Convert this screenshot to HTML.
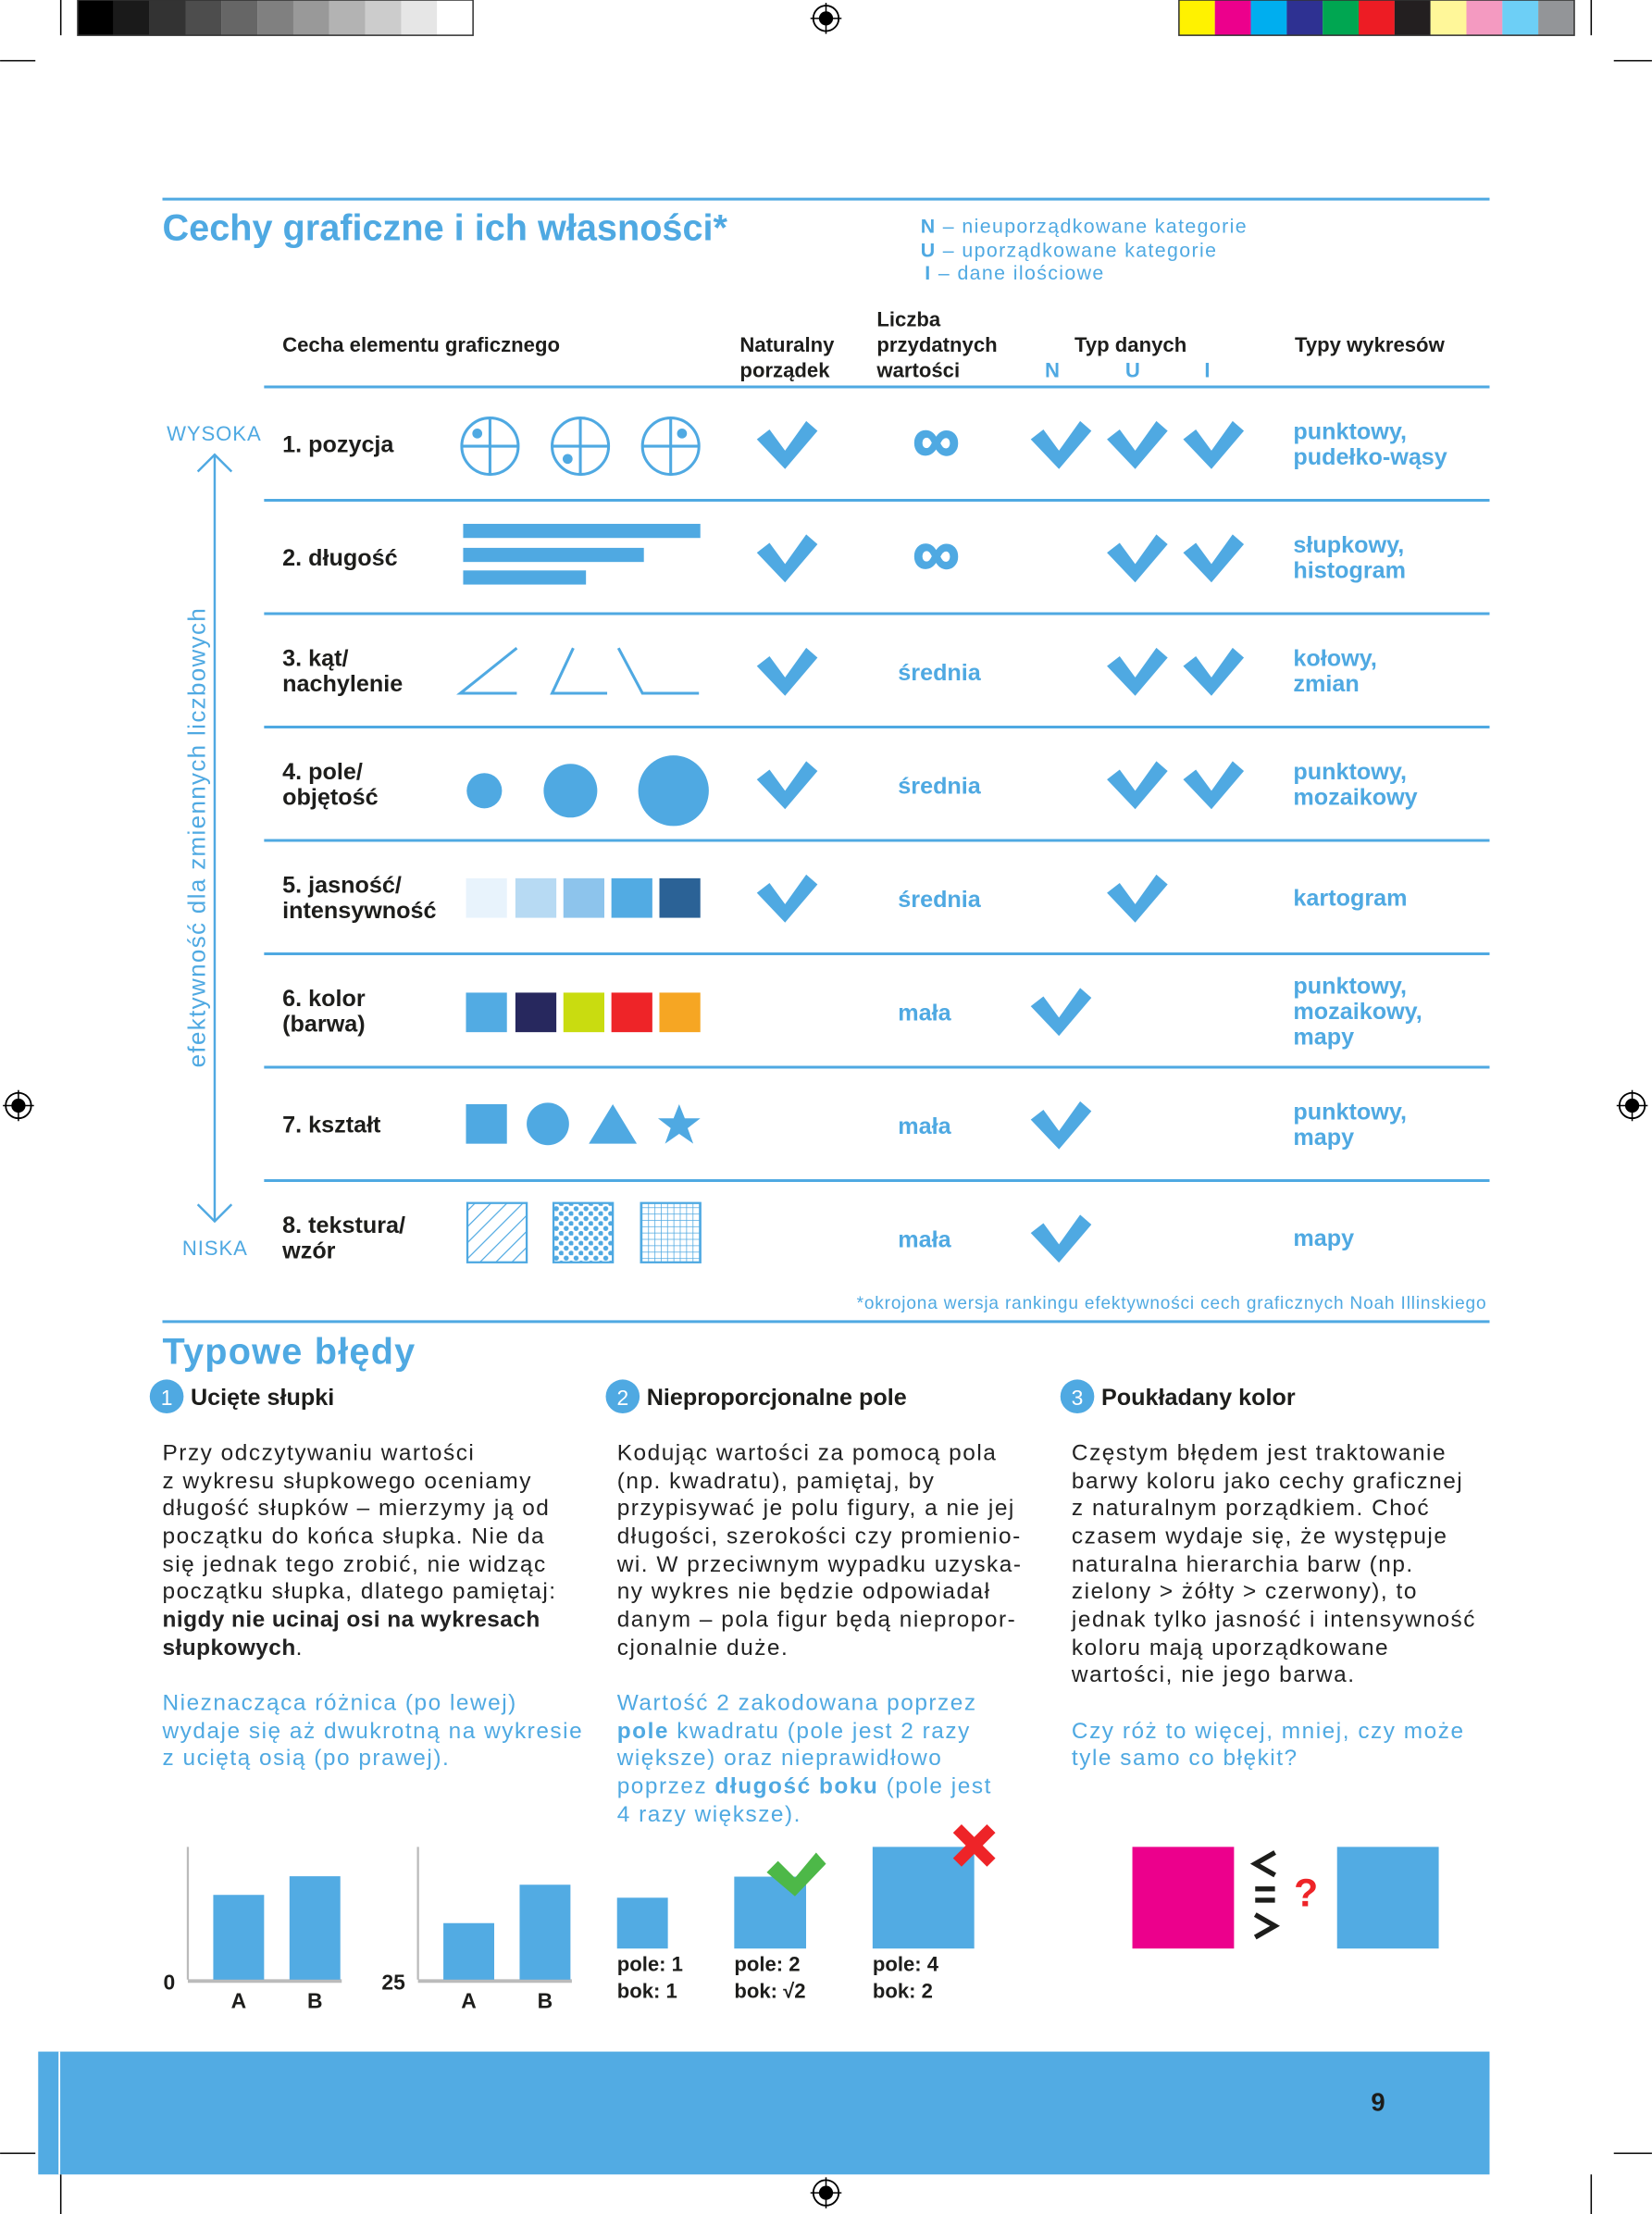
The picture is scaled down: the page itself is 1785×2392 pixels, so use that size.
<!DOCTYPE html>
<html><head><meta charset="utf-8">
<style>
html,body{margin:0;padding:0;background:#fff;}
svg{display:block;}
text{font-family:"Liberation Sans",sans-serif;}
.b{font-weight:bold;fill:#1d1d1b;}
.bl{fill:#4FA9E2;}
.blb{fill:#4FA9E2;font-weight:bold;}
.body{font-size:16px;fill:#222;letter-spacing:1px;}
.bbody{font-size:16px;fill:#4FA9E2;letter-spacing:1px;}
</style></head>
<body>
<svg id="page" width="1785" height="2392" viewBox="0 0 1170 1568" xmlns="http://www.w3.org/2000/svg">
<defs>
<pattern id="hatch" width="8" height="8" patternUnits="userSpaceOnUse" patternTransform="rotate(45)"><line x1="0" y1="0" x2="0" y2="8" stroke="#4FA9E2" stroke-width="1.6"/></pattern>
<pattern id="dots" width="7" height="7" patternUnits="userSpaceOnUse"><circle cx="2" cy="2" r="1.8" fill="#4FA9E2"/><circle cx="5.5" cy="5.5" r="1.8" fill="#4FA9E2"/></pattern>
<pattern id="grid" width="4.5" height="4.5" patternUnits="userSpaceOnUse"><path d="M0 0H4.5M0 0V4.5" stroke="#4FA9E2" stroke-width="1"/></pattern>
<path id="chk" d="M-21,-4 L-12,-11 L-1,4 L14,-17 L22,-10 L-1,17 Z" fill="#4FA9E2"/>
<g id="reg"><circle r="9" fill="none" stroke="#000" stroke-width="1.2"/><circle r="5" fill="#000"/><line x1="-11" x2="11" stroke="#000" stroke-width="1"/><line y1="-11" y2="11" stroke="#000" stroke-width="1"/></g>
</defs>

<g>
<g id="grays"></g><g id="colors"></g>
<rect x="55" y="0" width="280" height="25" fill="none" stroke="#333" stroke-width="1"/>
<rect x="835" y="0" width="280" height="25" fill="none" stroke="#333" stroke-width="1"/>
<use href="#reg" x="585" y="13"/><use href="#reg" x="585" y="1553"/><use href="#reg" x="13" y="783"/><use href="#reg" x="1156" y="783"/>
<line x1="43" y1="0" x2="43" y2="25" stroke="#000"/><line x1="1127" y1="0" x2="1127" y2="25" stroke="#000"/>
<line x1="0" y1="43" x2="25" y2="43" stroke="#000"/><line x1="1143" y1="43" x2="1170" y2="43" stroke="#000"/>
<line x1="0" y1="1525" x2="25" y2="1525" stroke="#000"/><line x1="1143" y1="1525" x2="1170" y2="1525" stroke="#000"/>
<line x1="43" y1="1540" x2="43" y2="1568" stroke="#000"/><line x1="1127" y1="1540" x2="1127" y2="1568" stroke="#000"/>
</g>

<line x1="115" y1="141" x2="1055" y2="141" stroke="#4FA9E2" stroke-width="2"/>
<text x="115" y="170" class="blb" font-size="26">Cechy graficzne i ich własności*</text>
<g font-size="14" letter-spacing="0.9">
<text x="652" y="165" class="bl"><tspan font-weight="bold">N</tspan> – nieuporządkowane kategorie</text>
<text x="652" y="182" class="bl"><tspan font-weight="bold">U</tspan> – uporządkowane kategorie</text>
<text x="655" y="198" class="bl"><tspan font-weight="bold">I</tspan>  – dane ilościowe</text>
</g>
<g font-size="14.5">
<text x="200" y="249" class="b">Cecha elementu graficznego</text>
<text x="524" y="249" class="b">Naturalny</text><text x="524" y="267" class="b">porządek</text>
<text x="621" y="231" class="b">Liczba</text><text x="621" y="249" class="b">przydatnych</text><text x="621" y="267" class="b">wartości</text>
<text x="761" y="249" class="b">Typ danych</text>
<text x="740" y="267" class="blb">N</text><text x="797" y="267" class="blb">U</text><text x="853" y="267" class="blb">I</text>
<text x="917" y="249" class="b">Typy wykresów</text>
</g>
<line x1="187" y1="274" x2="1055" y2="274" stroke="#4FA9E2" stroke-width="2"/>

<g>
<text x="118" y="312" class="bl" font-size="14.5" letter-spacing="0.6">WYSOKA</text>
<text x="129" y="889" class="bl" font-size="14.5" letter-spacing="0.6">NISKA</text>
<line x1="152" y1="322" x2="152" y2="864" stroke="#4FA9E2" stroke-width="1.6"/>
<polyline points="140,334 152,322 164,334" fill="none" stroke="#4FA9E2" stroke-width="1.6"/>
<polyline points="140,853 152,865 164,853" fill="none" stroke="#4FA9E2" stroke-width="1.6"/>
<text transform="translate(145,593) rotate(-90)" text-anchor="middle" class="bl" font-size="17" letter-spacing="0.9">efektywność dla zmiennych liczbowych</text>
</g>

<g id="rows"></g>

<g fill="none" stroke="#4FA9E2" stroke-width="2">
<circle cx="347" cy="316" r="20"/><line x1="327" y1="316" x2="367" y2="316"/><line x1="347" y1="296" x2="347" y2="336"/><circle cx="338" cy="307" r="3.5" fill="#4FA9E2" stroke="none"/>
<circle cx="411" cy="316" r="20"/><line x1="391" y1="316" x2="431" y2="316"/><line x1="411" y1="296" x2="411" y2="336"/><circle cx="402" cy="325" r="3.5" fill="#4FA9E2" stroke="none"/>
<circle cx="475" cy="316" r="20"/><line x1="455" y1="316" x2="495" y2="316"/><line x1="475" y1="296" x2="475" y2="336"/><circle cx="483" cy="307" r="3.5" fill="#4FA9E2" stroke="none"/>
</g>
<g fill="#4FA9E2">
<rect x="328" y="371" width="168" height="10"/><rect x="328" y="388" width="128" height="10"/><rect x="328" y="404" width="87" height="10"/>
</g>
<g fill="none" stroke="#4FA9E2" stroke-width="2">
<polyline points="366,459 326,491 366,491"/><polyline points="406,459 391,491 430,491"/><polyline points="438,459 455,491 495,491"/>
</g>
<g fill="#4FA9E2">
<circle cx="343" cy="560" r="12.5"/><circle cx="404" cy="560" r="19"/><circle cx="477" cy="560" r="25"/>
</g>
<g>
<rect x="330" y="622" width="29" height="28" fill="#E8F3FC"/><rect x="365" y="622" width="29" height="28" fill="#B7DAF3"/><rect x="399" y="622" width="29" height="28" fill="#8DC4EC"/><rect x="433" y="622" width="29" height="28" fill="#52ABE3"/><rect x="467" y="622" width="29" height="28" fill="#2B6296"/>
</g>
<g>
<rect x="330" y="703" width="29" height="28" fill="#52ABE3"/><rect x="365" y="703" width="29" height="28" fill="#27285E"/><rect x="399" y="703" width="29" height="28" fill="#C9DC10"/><rect x="433" y="703" width="29" height="28" fill="#EE2428"/><rect x="467" y="703" width="29" height="28" fill="#F6A623"/>
</g>
<g fill="#4FA9E2">
<rect x="330" y="782" width="29" height="28"/><circle cx="388" cy="796" r="15"/><polygon points="434,782 451,810 417,810"/>
<polygon points="481,782 485,792 496,792 487,799 491,810 481,803 471,810 475,799 466,792 477,792"/>
</g>
<g stroke="#4FA9E2" stroke-width="1.5">
<rect x="331" y="852" width="42" height="42" fill="url(#hatch)"/><rect x="392" y="852" width="42" height="42" fill="url(#dots)"/><rect x="454" y="852" width="42" height="42" fill="url(#grid)"/>
</g>

<text x="1053" y="927" text-anchor="end" class="bl" font-size="12.5" letter-spacing="0.55">*okrojona wersja rankingu efektywności cech graficznych Noah Illinskiego</text>
<line x1="115" y1="936" x2="1055" y2="936" stroke="#4FA9E2" stroke-width="2"/>

<text x="115" y="966" class="blb" font-size="26" letter-spacing="0.8">Typowe błędy</text>
<g font-size="16.5">
<circle cx="118" cy="989" r="12" fill="#4FA9E2"/><text x="118" y="995" text-anchor="middle" fill="#fff" font-size="15">1</text><text x="135" y="995" class="b">Ucięte słupki</text>
<circle cx="441" cy="989" r="12" fill="#4FA9E2"/><text x="441" y="995" text-anchor="middle" fill="#fff" font-size="15">2</text><text x="458" y="995" class="b">Nieproporcjonalne pole</text>
<circle cx="763" cy="989" r="12" fill="#4FA9E2"/><text x="763" y="995" text-anchor="middle" fill="#fff" font-size="15">3</text><text x="780" y="995" class="b">Poukładany kolor</text>
</g>
<g>
<text class="body"><tspan x="115" y="1034">Przy odczytywaniu wartości</tspan><tspan x="115" y="1054">z wykresu słupkowego oceniamy</tspan><tspan x="115" y="1073">długość słupków – mierzymy ją od</tspan><tspan x="115" y="1093">początku do końca słupka. Nie da</tspan><tspan x="115" y="1113">się jednak tego zrobić, nie widząc</tspan><tspan x="115" y="1132">początku słupka, dlatego pamiętaj:</tspan><tspan x="115" y="1152" font-weight="bold" letter-spacing="0.3">nigdy nie ucinaj osi na wykresach</tspan><tspan x="115" y="1172" font-weight="bold" letter-spacing="0.3">słupkowych</tspan><tspan>.</tspan></text>
<text class="bbody"><tspan x="115" y="1211">Nieznacząca różnica (po lewej)</tspan><tspan x="115" y="1231">wydaje się aż dwukrotną na wykresie</tspan><tspan x="115" y="1250">z uciętą osią (po prawej).</tspan></text>
</g>
<g>
<text class="body"><tspan x="437" y="1034">Kodując wartości za pomocą pola</tspan><tspan x="437" y="1054">(np. kwadratu), pamiętaj, by</tspan><tspan x="437" y="1073">przypisywać je polu figury, a nie jej</tspan><tspan x="437" y="1093">długości, szerokości czy promienio-</tspan><tspan x="437" y="1113">wi. W przeciwnym wypadku uzyska-</tspan><tspan x="437" y="1132">ny wykres nie będzie odpowiadał</tspan><tspan x="437" y="1152">danym – pola figur będą niepropor-</tspan><tspan x="437" y="1172">cjonalnie duże.</tspan></text>
<text class="bbody"><tspan x="437" y="1211">Wartość 2 zakodowana poprzez</tspan><tspan x="437" y="1231"><tspan font-weight="bold">pole</tspan> kwadratu (pole jest 2 razy</tspan><tspan x="437" y="1250">większe) oraz nieprawidłowo</tspan><tspan x="437" y="1270">poprzez <tspan font-weight="bold">długość boku</tspan> (pole jest</tspan><tspan x="437" y="1290">4 razy większe).</tspan></text>
</g>
<g>
<text class="body"><tspan x="759" y="1034">Częstym błędem jest traktowanie</tspan><tspan x="759" y="1054">barwy koloru jako cechy graficznej</tspan><tspan x="759" y="1073">z naturalnym porządkiem. Choć</tspan><tspan x="759" y="1093">czasem wydaje się, że występuje</tspan><tspan x="759" y="1113">naturalna hierarchia barw (np.</tspan><tspan x="759" y="1132">zielony &gt; żółty &gt; czerwony), to</tspan><tspan x="759" y="1152">jednak tylko jasność i intensywność</tspan><tspan x="759" y="1172">koloru mają uporządkowane</tspan><tspan x="759" y="1191">wartości, nie jego barwa.</tspan></text>
<text class="bbody"><tspan x="759" y="1231">Czy róż to więcej, mniej, czy może</tspan><tspan x="759" y="1250">tyle samo co błękit?</tspan></text>
</g>

<g id="charts"></g>

<g>
<rect x="802" y="1308" width="72" height="72" fill="#EC008C"/>
<rect x="947" y="1308" width="72" height="72" fill="#52ABE3"/>
<polyline points="903,1312 889,1320 903,1328" fill="none" stroke="#1d1d1b" stroke-width="3.5"/>
<rect x="889" y="1336" width="14" height="3.5" fill="#1d1d1b"/><rect x="889" y="1344" width="14" height="3.5" fill="#1d1d1b"/>
<polyline points="889,1356 903,1364 889,1372" fill="none" stroke="#1d1d1b" stroke-width="3.5"/>
<text x="925" y="1350" text-anchor="middle" font-size="28" font-weight="bold" fill="#EE2428">?</text>
</g>

<g>
<rect x="27" y="1453" width="1028" height="87" fill="#52ABE3"/>
<line x1="42" y1="1453" x2="42" y2="1540" stroke="#fff" stroke-width="1.2"/>
<text x="976" y="1495" text-anchor="middle" class="b" font-size="18">9</text>
</g>
</svg>

<script>
const NS="http://www.w3.org/2000/svg";
function mk(tag,attrs,parent){const e=document.createElementNS(NS,tag);for(const k in attrs)e.setAttribute(k,attrs[k]);parent.appendChild(e);return e;}

const grayShades=["#000","#1a1a1a","#333","#4d4d4d","#666","#808080","#999","#b3b3b3","#ccc","#e6e6e6","#fff"];
const printColors=["#FFF200","#EC008C","#00AEEF","#2E3192","#00A651","#ED1C24","#231F20","#FFF799","#F49AC1","#6DCFF6","#939598"];
grayShades.forEach((c,i)=>{const r=mk('rect',{x:55+i*25.45,y:0,width:25.5,height:25,fill:c},document.getElementById('grays'));

});
printColors.forEach((c,i)=>{const r=mk('rect',{x:835+i*25.45,y:0,width:25.5,height:25,fill:c},document.getElementById('colors'));

});

const rowLabels=[["1. pozycja"],["2. długość"],["3. kąt/","nachylenie"],["4. pole/","objętość"],["5. jasność/","intensywność"],["6. kolor","(barwa)"],["7. kształt"],["8. tekstura/","wzór"]];
const rowNatural=[1,1,1,1,1,0,0,0];
const rowCount=["∞","∞","średnia","średnia","średnia","mała","mała","mała"];
const rowN=[1,0,0,0,0,1,1,1];
const rowU=[1,1,1,1,1,0,0,0];
const rowI=[1,1,1,1,0,0,0,0];
const rowCharts=[["punktowy,","pudełko-wąsy"],["słupkowy,","histogram"],["kołowy,","zmian"],["punktowy,","mozaikowy"],["kartogram"],["punktowy,","mozaikowy,","mapy"],["punktowy,","mapy"],["mapy"]];
const rowsG=document.getElementById('rows');
const rowTop=274,rowH=80.3;
rowLabels.forEach((lab,i)=>{
  const cy=rowTop+rowH*(i+0.5)+1;
  const g=mk('g',{},rowsG);
  
  
  const t=mk('text',{class:'b','font-size':16.5},g);
  lab.forEach((l,j)=>{const ts=mk('tspan',{x:200,y:cy+5+(j-(lab.length-1)/2)*18},t);ts.textContent=l;});
  const addChk=(x)=>{const u=mk('use',{href:'#chk',x:x,y:cy},g);};
  if(rowNatural[i])addChk(557);
  if(rowN[i])addChk(751);
  if(rowU[i])addChk(805);
  if(rowI[i])addChk(859);
  const c=rowCount[i];
  const isInf=c==="∞";
  const ct=mk('text',{x:isInf?663:636,y:isInf?cy+12:cy+6,class:'blb','font-size':isInf?46:16.5,'text-anchor':isInf?'middle':'start',stroke:isInf?'#4FA9E2':'none','stroke-width':isInf?1.5:0},g);
  ct.textContent=c;
  const ch=rowCharts[i];
  const tt=mk('text',{class:'blb','font-size':16.5},g);
  ch.forEach((l,j)=>{const ts=mk('tspan',{x:916,y:cy+5+(j-(ch.length-1)/2)*18},tt);ts.textContent=l;});
  if(i<7){const ln=mk('line',{x1:187,x2:1055,y1:rowTop+rowH*(i+1),y2:rowTop+rowH*(i+1),stroke:'#4FA9E2','stroke-width':2},rowsG);
  
  }
});

const barCats=["A","B"];
const chart1Values=[50,61];
const chart1Base=0;
const chart2Values=[50,67];
const chart2Base=25;
const squarePoles=[1,2,4];
const squareLabels=[["pole: 1","bok: 1"],["pole: 2","bok: √2"],["pole: 4","bok: 2"]];
const chartsG=document.getElementById('charts');
const baseY=1402;
function barChart(x0,values,base,scale,name){
  const g=mk('g',{},chartsG);
  
  
  const yv=v=>baseY-(v-base)*scale;
  mk('line',{x1:x0,y1:1308,x2:x0,y2:baseY,stroke:'#bbb','stroke-width':1.5},g);
  mk('line',{x1:x0,y1:baseY+1,x2:x0+109,y2:baseY+1,stroke:'#bbb','stroke-width':2.5},g);
  const tk=mk('text',{x:x0-9,y:baseY+7,'text-anchor':'end',class:'b','font-size':15},g);
  tk.textContent=base;
  values.forEach((v,i)=>{
    const bx=x0+18+i*54;
    const r=mk('rect',{x:bx,y:yv(v),width:36,height:baseY-yv(v),fill:'#52ABE3'},g);
    
    
    const l=mk('text',{x:bx+18,y:baseY+20,'text-anchor':'middle',class:'b','font-size':15},g);
    l.textContent=barCats[i];
  });
}
barChart(133,chart1Values,chart1Base,1.2,'full-axis-bar-chart');
barChart(296,chart2Values,chart2Base,1.6,'truncated-axis-bar-chart');

const sqG=mk('g',{},chartsG);


const sqX=[437,520,618];
squarePoles.forEach((p,i)=>{
  const s=Math.sqrt(p)*36;
  const r=mk('rect',{x:sqX[i],y:1380-s,width:s,height:s,fill:'#52ABE3'},sqG);
  
  
  squareLabels[i].forEach((l,j)=>{const t=mk('text',{x:sqX[i],y:1396+j*19,class:'b','font-size':14.5},sqG);t.textContent=l;});
});
const ok=mk('path',{d:'M543,1326 L551,1318 L563,1330 L578,1312 L585,1320 L563,1343 Z',fill:'#4DB848'},sqG);


const bad=mk('path',{d:'M675,1298 L681,1292 L690,1301 L699,1292 L705,1298 L696,1307 L705,1316 L699,1322 L690,1313 L681,1322 L675,1316 L684,1307 Z',fill:'#EE2428'},sqG);


</script>
</body></html>
